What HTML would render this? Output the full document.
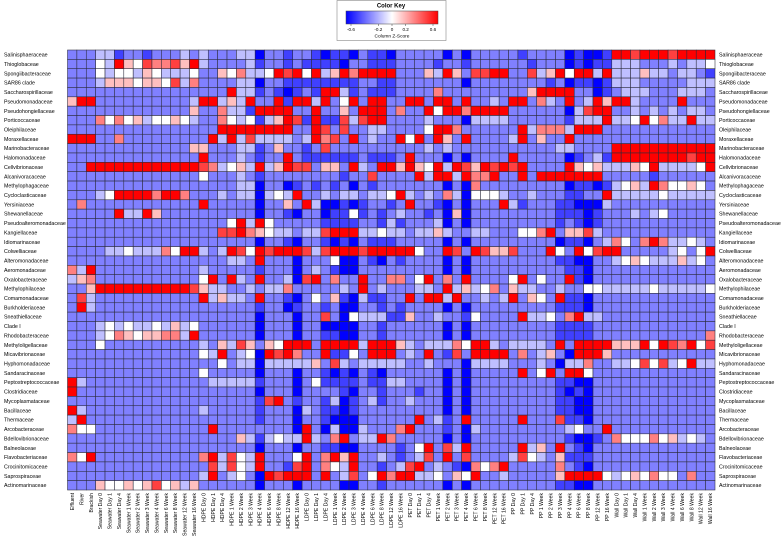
<!DOCTYPE html>
<html>
<head>
<meta charset="utf-8">
<style>
html,body{margin:0;padding:0;background:#fff;}
svg{display:block;font-family:"Liberation Sans",Arial,sans-serif;}
</style>
</head>
<body>
<svg id="chart" width="784" height="541" viewBox="0 0 784 541" xmlns="http://www.w3.org/2000/svg">
  <g>
    <rect x="337" y="0.5" width="109" height="40" fill="#fff" stroke="#888" stroke-width="0.6"/>
    <text x="391" y="7.5" font-size="6" font-weight="bold" text-anchor="middle">Color Key</text>
    <defs>
      <linearGradient id="kg" x1="0" x2="1" y1="0" y2="0">
        <stop offset="0" stop-color="#0000ff"/>
        <stop offset="0.5" stop-color="#ffffff"/>
        <stop offset="1" stop-color="#ff0000"/>
      </linearGradient>
    </defs>
    <rect x="346" y="11" width="92" height="13" fill="url(#kg)" stroke="#444" stroke-width="0.5"/>
    <g id="keyticks"></g>
    <text x="392" y="37.5" font-size="4.8" text-anchor="middle">Column Z-Score</text>
  </g>
  <g id="cells"></g>
  <g id="rowlabelsL"></g>
  <g id="rowlabelsR"></g>
  <g id="collabels"></g>
</svg>
<script>
// Row categories (families)
const families = ["Salinisphaeraceae","Thioglobaceae","Spongiibacteraceae","SAR86 clade","Saccharospirillaceae","Pseudomonadaceae","Pseudohongiellaceae","Porticoccaceae","Oleiphilaceae","Moraxellaceae","Marinobacteraceae","Halomonadaceae","Cellvibrionaceae","Alcanivoracaceae","Methylophagaceae","Cycloclasticaceae","Yersiniaceae","Shewanellaceae","Pseudoalteromonadaceae","Kangiellaceae","Idiomarinaceae","Colwelliaceae","Alteromonadaceae","Aeromonadaceae","Oxalobacteraceae","Methylophilaceae","Comamonadaceae","Burkholderiaceae","Sneathiellaceae","Clade I","Rhodobacteraceae","Methyloligellaceae","Micavibrionaceae","Hyphomonadaceae","Sandaracinaceae","Peptostreptococcaceae","Clostridiaceae","Mycoplasmataceae","Bacillaceae","Thermaceae","Arcobacteraceae","Bdellovibrionaceae","Balneolaceae","Flavobacteriaceae","Crocinitomicaceae","Saprospiraceae","Actinomarinaceae"];
// Column categories (samples)
const times = ["Day 0","Day 1","Day 4","1 Week","2 Week","3 Week","4 Week","6 Week","8 Week","12 Week","16 Week"];
const samples = ["Effluent","River","Brackish"]
  .concat(times.map(t=>"Seawater "+t))
  .concat(times.map(t=>"HDPE "+t))
  .concat(times.map(t=>"LDPE "+t))
  .concat(times.map(t=>"PET "+t))
  .concat(times.map(t=>"PP "+t))
  .concat(times.map(t=>"Wall "+t));
// Key tick labels
const keyTicks = [-0.6,-0.2,0,0.2,0.6];
const keyTickLabels = ["-0.6","-0.2","0","0.2","0.6"];
// Cell values: level 0..8, z-score = (level-4)*0.15
const zLevel = [
[2,2,2, 3,3,1,2,2,1,2,2,2,3,2, 3,2,2,2,3,3,0,2,2,1,2, 2,1,0,1,1,0,2,1,1,0,2, 2,2,2,2,0,2,0,2,2,2,2, 2,1,2,2,2,2,0,1,0,0,1, 8,8,7,8,8,8,7,8,8,8,8],
[2,2,2, 4,3,8,5,4,7,6,6,7,5,8, 3,2,2,2,2,3,1,2,2,1,2, 1,1,1,1,0,2,2,1,1,1,2, 2,2,2,1,2,2,1,2,2,2,2, 2,2,1,2,2,2,0,1,0,1,1, 3,3,3,2,2,2,3,2,3,3,4],
[2,2,2, 4,3,4,4,3,5,4,3,3,3,4, 2,2,5,4,6,3,3,4,8,7,8, 4,8,3,5,8,6,8,8,8,8,2, 2,2,5,3,8,5,2,7,7,8,8, 2,2,7,3,5,8,4,8,8,3,8, 3,3,3,5,3,3,2,3,3,2,1],
[2,2,2, 3,5,5,5,4,5,5,4,7,3,6, 2,2,2,2,3,3,0,2,2,1,1, 1,1,1,1,1,1,2,2,1,1,2, 2,2,2,2,2,2,0,2,2,2,2, 2,2,2,2,1,2,0,1,1,0,1, 3,3,3,2,2,2,2,2,3,3,3],
[2,2,2, 2,2,2,2,2,2,2,2,2,2,2, 2,2,2,8,3,3,1,2,1,0,1, 2,1,8,8,3,1,2,1,1,1,2, 2,2,2,6,2,2,2,2,2,2,2, 2,2,5,8,8,8,8,2,2,0,1, 2,3,3,3,2,2,2,3,3,3,2],
[5,8,8, 2,2,2,2,2,2,2,2,2,2,3, 8,8,3,5,3,8,2,2,8,1,8, 8,3,8,2,4,8,2,8,8,2,2, 8,8,2,8,8,2,8,2,2,3,2, 8,8,2,6,3,2,8,2,3,8,5, 8,8,3,2,2,2,2,8,2,2,2],
[2,2,2, 2,2,2,2,2,2,2,2,2,2,5, 2,2,6,3,3,1,8,8,8,8,2, 2,8,2,2,5,2,8,8,8,2,6, 2,2,8,4,8,8,6,8,8,8,8, 2,2,2,2,2,2,0,3,7,8,8, 2,2,3,2,3,2,3,2,3,3,2],
[2,2,2, 6,4,6,4,5,3,4,4,5,4,3, 2,2,6,4,3,4,1,3,5,8,7, 1,8,1,1,7,3,7,8,8,2,2, 2,2,3,2,2,2,0,3,3,3,3, 2,2,2,2,2,2,1,3,3,3,8, 3,3,4,8,4,6,3,3,8,3,3],
[2,2,2, 2,2,2,2,2,2,2,2,2,2,2, 2,2,8,8,8,8,8,8,8,8,2, 2,8,7,2,7,2,2,3,3,2,2, 2,2,4,8,8,6,2,2,2,2,2, 2,8,3,6,6,6,3,8,8,8,2, 2,2,2,2,2,2,2,2,2,2,2],
[8,8,8, 2,2,6,2,2,2,2,2,2,2,2, 2,8,3,8,3,7,3,3,3,3,2, 3,8,6,7,2,8,2,3,2,2,8, 4,8,2,8,5,2,8,2,2,2,2, 3,8,2,5,2,2,8,2,2,2,2, 2,2,2,2,2,2,2,2,2,2,2],
[2,2,2, 2,2,2,2,2,2,2,2,2,2,5, 5,2,2,2,3,3,1,2,5,2,2, 1,2,7,2,2,2,2,2,2,2,2, 2,2,3,2,3,2,2,2,2,2,2, 2,2,2,2,2,3,3,2,2,2,2, 8,8,8,8,8,8,8,8,8,8,8],
[2,2,2, 2,2,2,2,2,2,2,2,2,2,2, 8,2,2,2,3,2,1,2,2,8,2, 1,1,1,1,1,1,2,1,1,1,2, 8,2,2,2,0,2,0,2,2,2,2, 8,2,2,2,2,2,0,1,2,3,1, 8,8,8,8,8,8,8,8,7,8,8],
[2,2,8, 8,8,8,8,8,8,8,8,8,8,8, 7,6,3,4,5,3,8,3,5,8,7, 7,2,5,5,2,8,3,2,8,8,5, 8,5,4,8,3,8,7,5,8,7,8, 7,8,2,2,2,2,8,5,4,5,3, 3,3,5,4,8,3,3,3,3,4,8],
[2,2,2, 2,2,2,2,2,2,2,2,2,2,2, 4,2,2,2,3,2,1,2,2,2,2, 2,2,2,2,1,2,2,7,2,2,2, 2,8,3,8,8,3,8,6,6,8,2, 2,8,2,8,8,8,8,8,8,8,2, 2,2,2,2,1,2,2,2,2,2,2],
[2,2,2, 2,2,2,2,2,2,2,2,2,2,2, 2,2,2,2,3,3,0,2,2,0,1, 2,1,2,1,2,0,2,1,2,2,2, 2,2,2,2,0,2,0,6,2,2,2, 2,2,2,2,2,2,0,1,1,0,1, 3,4,5,3,8,6,4,4,5,4,2],
[2,2,2, 3,4,8,8,8,8,6,8,8,6,2, 2,2,3,2,3,3,0,3,4,3,8, 2,2,3,2,3,3,2,3,3,4,8, 3,2,3,2,6,3,0,4,4,4,3, 2,2,3,2,2,2,1,1,2,2,8, 3,3,3,3,3,4,3,3,3,3,3],
[2,6,2, 2,2,2,2,2,2,2,2,2,2,2, 8,2,2,2,2,2,0,2,2,5,2, 8,3,0,0,1,0,1,2,2,1,2, 8,2,2,1,0,2,0,2,2,2,8, 3,1,2,2,2,1,1,0,0,0,3, 2,2,2,2,2,2,2,2,2,2,2],
[2,2,2, 2,2,8,3,3,8,5,2,2,2,2, 2,2,2,2,2,2,0,2,2,1,0, 2,2,0,1,1,4,1,2,1,2,3, 2,2,1,2,0,5,0,2,2,2,2, 2,2,2,2,2,1,1,1,0,1,2, 2,2,3,2,3,4,2,2,2,2,2],
[2,2,2, 2,2,2,2,2,2,2,2,2,2,2, 2,2,2,4,8,3,8,4,2,2,2, 2,2,1,1,1,1,2,2,1,3,1, 2,2,2,3,0,2,0,2,2,2,2, 2,2,2,2,2,1,2,1,0,1,2, 2,2,2,2,2,2,2,2,2,2,2],
[2,2,2, 2,2,2,2,2,2,2,2,2,2,2, 2,2,7,7,8,6,5,4,3,3,2, 3,3,7,8,8,8,3,3,4,3,3, 2,3,3,5,3,2,2,3,3,2,2, 2,4,4,6,8,2,5,5,7,3,2, 2,2,2,2,2,2,2,2,2,2,2],
[2,2,2, 2,2,2,2,2,2,2,2,2,2,2, 2,2,2,2,2,2,0,2,2,1,0, 2,2,1,0,1,0,2,1,1,1,2, 2,2,2,2,0,2,0,2,2,2,2, 2,2,2,2,2,0,1,1,0,2,3, 6,4,2,6,8,6,3,3,4,3,2],
[2,2,2, 2,3,3,4,3,3,3,6,4,8,8, 3,2,3,8,7,4,8,7,8,8,8, 7,3,7,8,8,8,7,8,8,8,8, 8,4,2,2,8,7,2,8,7,5,5, 7,2,2,2,8,4,2,8,4,7,8, 8,2,2,2,2,2,3,4,2,4,8],
[2,2,2, 2,2,2,2,2,2,2,2,2,2,2, 2,2,2,3,3,2,8,2,2,2,0, 2,2,2,4,0,0,2,1,0,2,1, 2,2,2,2,0,2,0,2,2,2,2, 2,2,2,2,2,1,1,0,0,2,2, 3,4,5,4,3,3,3,5,3,4,2],
[6,3,8, 2,2,2,2,2,2,2,2,2,2,2, 3,2,2,2,2,2,1,2,2,2,0, 2,3,2,1,0,0,2,2,2,2,2, 2,2,2,2,0,2,0,2,2,2,2, 2,2,2,2,2,2,1,1,0,2,2, 2,2,2,2,2,2,2,2,2,2,2],
[3,5,6, 2,2,2,2,2,2,2,2,2,2,2, 4,8,2,8,3,2,8,2,2,3,0, 7,8,2,6,2,2,8,2,2,6,6, 2,4,8,2,6,2,8,2,2,2,2, 4,8,2,4,2,2,8,1,0,2,2, 2,2,2,2,2,2,2,2,2,2,2],
[2,2,5, 8,8,8,8,8,8,8,8,8,8,7, 5,3,3,2,2,3,2,3,3,6,2, 2,2,2,2,3,2,8,2,3,2,2, 2,3,3,2,8,3,5,3,4,6,2, 5,3,3,2,2,3,2,2,4,4,3, 3,3,3,3,4,3,3,3,3,3,4],
[2,7,3, 2,2,2,2,2,2,2,2,2,2,2, 8,3,5,3,3,2,8,2,2,1,0, 2,4,2,5,1,0,3,1,1,2,2, 8,2,8,8,3,8,2,2,3,2,3, 8,2,5,4,2,8,1,1,0,2,2, 2,2,2,2,2,2,2,2,2,2,2],
[2,8,3, 2,2,2,2,2,2,2,2,2,2,2, 2,2,2,2,2,2,1,2,2,0,1, 2,2,1,2,0,0,2,2,1,2,1, 2,2,2,2,0,2,0,2,2,2,2, 2,2,2,2,2,1,1,1,0,2,2, 2,2,2,2,2,2,2,2,2,2,2],
[2,2,2, 2,2,2,2,2,2,2,2,2,2,2, 2,2,2,2,2,2,0,2,2,2,0, 2,2,7,2,0,4,3,3,3,1,1, 5,2,2,3,2,2,1,4,2,2,2, 2,8,3,3,4,2,6,8,3,3,2, 2,2,2,2,2,2,2,2,2,2,2],
[2,2,2, 3,4,3,4,3,3,4,3,5,3,4, 2,2,2,2,2,2,0,2,2,2,0, 2,2,0,0,0,0,2,2,1,2,2, 2,2,2,2,0,2,0,2,2,2,2, 2,2,2,2,2,1,1,1,1,2,2, 2,2,2,2,2,2,2,2,2,2,2],
[2,2,2, 3,4,6,5,4,5,5,6,6,3,8, 2,2,2,2,2,2,0,2,2,2,0, 2,2,1,1,0,0,2,2,1,2,2, 2,2,2,2,0,2,0,2,2,2,2, 2,2,2,2,2,1,1,1,1,2,2, 2,2,2,2,2,2,2,2,2,2,6],
[2,2,2, 4,2,2,2,2,2,2,2,2,2,2, 3,2,5,3,7,5,2,5,4,8,8, 8,2,8,8,8,8,3,8,8,8,5, 3,2,3,3,3,6,4,8,8,3,2, 3,3,3,3,2,8,2,8,8,8,8, 5,5,5,8,4,8,7,6,8,4,7],
[2,2,2, 2,2,2,2,2,2,2,2,2,2,2, 4,3,8,2,3,4,0,8,7,8,6, 2,2,8,1,1,4,2,8,8,8,2, 3,2,8,2,1,7,2,8,8,8,8, 2,6,2,3,5,2,0,8,8,8,5, 2,2,2,2,2,2,2,2,2,2,2],
[2,2,2, 2,2,2,2,2,2,2,2,2,2,2, 2,2,4,2,3,3,0,3,3,3,3, 3,5,2,7,3,2,3,3,3,3,3, 2,2,3,2,2,2,0,3,3,3,3, 2,2,2,3,2,0,3,3,6,2,2, 3,3,4,7,4,7,3,4,8,3,3],
[2,2,2, 2,2,2,2,2,2,2,2,2,2,2, 4,2,2,2,2,2,0,2,2,2,0, 2,2,1,0,1,0,2,1,0,2,2, 2,2,2,2,0,2,0,2,2,2,2, 2,8,2,4,8,2,8,8,4,2,2, 2,2,2,2,2,2,2,2,2,2,2],
[8,3,2, 2,2,2,2,2,2,2,2,2,2,2, 2,3,3,3,3,3,1,2,2,2,0, 2,4,1,1,1,1,2,1,1,3,3, 2,2,2,2,0,2,0,2,2,2,2, 2,2,2,2,2,1,1,0,0,2,2, 2,2,2,2,2,2,2,2,2,2,2],
[8,2,2, 2,2,2,2,2,2,2,2,2,2,2, 2,2,2,2,2,2,0,2,2,2,0, 2,2,2,2,1,0,2,2,1,2,2, 2,1,2,2,0,2,0,2,2,2,2, 2,2,2,2,2,1,0,1,0,2,2, 2,2,2,2,2,2,2,2,2,2,2],
[2,2,2, 2,2,2,2,2,2,2,2,2,2,2, 2,2,2,2,2,2,1,7,8,2,1, 2,2,1,3,0,1,2,3,1,2,2, 3,2,2,2,0,2,0,2,2,2,2, 2,2,2,2,2,1,1,0,0,2,2, 2,2,2,2,2,2,2,2,2,2,2],
[8,3,2, 2,2,2,2,2,2,2,2,2,2,2, 3,2,2,2,2,2,1,2,2,2,0, 3,2,1,1,0,1,2,2,2,2,2, 2,2,2,2,0,2,0,2,2,2,2, 2,2,2,2,2,1,1,0,0,2,2, 2,2,2,2,2,2,2,2,2,2,2],
[3,8,2, 2,2,2,2,2,2,2,2,2,2,2, 2,2,2,2,2,2,1,2,2,2,0, 2,2,1,0,0,0,2,2,2,2,2, 2,8,2,3,1,2,8,2,2,2,2, 2,8,2,2,2,7,1,1,0,2,2, 2,2,2,2,2,2,2,2,2,2,2],
[6,4,4, 2,2,2,2,2,2,2,2,2,2,2, 2,8,2,2,2,2,2,2,2,2,0, 8,2,0,3,0,0,3,2,2,2,6, 8,2,2,2,1,2,0,3,2,2,2, 2,2,2,2,2,2,3,4,2,2,8, 2,2,2,2,2,2,2,2,2,2,2],
[2,2,2, 2,2,2,2,2,2,2,2,2,2,2, 2,2,2,2,5,3,1,3,4,3,3, 8,3,2,6,8,2,3,3,8,6,2, 2,2,2,2,0,2,0,2,2,2,2, 2,2,2,2,2,2,1,0,0,1,2, 6,4,4,4,6,4,5,3,4,3,2],
[2,2,2, 2,2,2,2,2,2,2,2,2,2,2, 2,2,2,2,2,2,0,2,2,2,0, 2,2,1,1,0,0,2,2,2,2,1, 2,4,8,2,7,3,8,2,2,2,2, 2,8,3,5,2,8,2,1,0,2,2, 2,2,2,2,2,2,2,2,2,2,2],
[6,4,8, 2,2,2,2,2,2,2,2,2,2,2, 6,8,3,7,4,3,8,2,2,2,4, 8,2,6,8,5,8,2,2,3,2,1, 2,3,7,2,8,2,7,2,2,2,2, 3,7,4,3,2,5,1,1,1,2,2, 2,2,2,2,2,2,2,2,2,2,2],
[2,2,2, 2,2,2,2,2,2,2,2,2,2,2, 2,7,3,7,4,3,8,2,2,1,7, 8,2,6,4,3,8,2,2,1,2,3, 7,8,2,3,2,1,0,6,4,6,8, 2,2,2,2,2,6,2,1,0,2,2, 2,2,2,2,2,2,2,2,2,2,2],
[2,2,2, 2,2,2,2,2,2,2,2,2,2,2, 3,8,2,3,4,2,0,8,7,8,8, 8,2,8,2,3,7,2,4,8,6,8, 8,3,3,4,2,5,4,8,2,2,3, 2,2,2,2,2,5,8,8,8,8,4, 3,4,5,4,6,4,4,2,6,2,2],
[2,2,2, 5,4,4,5,4,5,7,4,5,3,5, 2,2,2,2,2,2,0,2,2,2,0, 2,2,2,2,0,0,2,2,1,2,2, 2,2,2,2,0,2,0,2,2,2,2, 2,2,2,2,2,1,1,0,0,2,2, 2,2,2,2,2,2,2,2,2,2,2]
];

const NS = "http://www.w3.org/2000/svg";
const X0 = 67.5, X1 = 715, Y0 = 50, Y1 = 490;
const nCols = samples.length, nRows = families.length;
const cw = (X1 - X0) / nCols, ch = (Y1 - Y0) / nRows;
function xScale(c){ return X0 + c * cw; }
function yScale(r){ return Y0 + r * ch; }
function zOf(level){ return (level - 4) * 0.15; }
function colorOf(z){
  const t = Math.max(-1, Math.min(1, z / 0.6));
  let r, g, b;
  if (t < 0) { r = g = Math.round(255 * (1 + t)); b = 255; }
  else { r = 255; g = b = Math.round(255 * (1 - t)); }
  return "rgb(" + r + "," + g + "," + b + ")";
}
function keyX(v){ return 351 + (v + 0.6) / 1.2 * 82; }

const cellsG = document.getElementById("cells");
for (let r = 0; r < nRows; r++) {
  const row = zLevel[r] || [];
  for (let c = 0; c < nCols; c++) {
    const lv = row[c] === undefined ? 2 : row[c];
    const rect = document.createElementNS(NS, "rect");
    
    
    rect.setAttribute("x", xScale(c).toFixed(2));
    rect.setAttribute("y", yScale(r).toFixed(2));
    rect.setAttribute("width", cw.toFixed(2));
    rect.setAttribute("height", ch.toFixed(2));
    rect.setAttribute("fill", colorOf(zOf(lv)));
    rect.setAttribute("stroke", "#2a2a3a");
    rect.setAttribute("stroke-width", "0.55");
    cellsG.appendChild(rect);
  }
}

const lg = document.getElementById("rowlabelsL");
const rg = document.getElementById("rowlabelsR");
families.forEach((f, r) => {
  const y = yScale(r) + ch / 2 + 1.9;
  const t1 = document.createElementNS(NS, "text");
  
  
  t1.setAttribute("x", 4); t1.setAttribute("y", y.toFixed(2));
  t1.setAttribute("font-size", "5.3");
  t1.textContent = f;
  lg.appendChild(t1);
  const t2 = document.createElementNS(NS, "text");
  
  
  t2.setAttribute("x", 719); t2.setAttribute("y", y.toFixed(2));
  t2.setAttribute("font-size", "5.3");
  t2.textContent = f;
  rg.appendChild(t2);
});

const cg = document.getElementById("collabels");
samples.forEach((s, c) => {
  const x = xScale(c) + cw / 2 + 1.8;
  const t = document.createElementNS(NS, "text");
  
  
  t.setAttribute("font-size", "5.1");
  t.setAttribute("text-anchor", "end");
  t.setAttribute("transform", "translate(" + x.toFixed(2) + ",493) rotate(-90)");
  t.textContent = s;
  cg.appendChild(t);
});

const kt = document.getElementById("keyticks");
keyTicks.forEach((v, i) => {
  const x = keyX(v);
  const ln = document.createElementNS(NS, "line");
  
  
  ln.setAttribute("x1", x); ln.setAttribute("x2", x);
  ln.setAttribute("y1", 24); ln.setAttribute("y2", 26);
  ln.setAttribute("stroke", "#444"); ln.setAttribute("stroke-width", "0.5");
  kt.appendChild(ln);
  const t = document.createElementNS(NS, "text");
  
  
  t.setAttribute("x", x); t.setAttribute("y", 31);
  t.setAttribute("font-size", "4.6");
  t.setAttribute("text-anchor", "middle");
  t.textContent = keyTickLabels[i];
  kt.appendChild(t);
});
</script>
</body>
</html>
